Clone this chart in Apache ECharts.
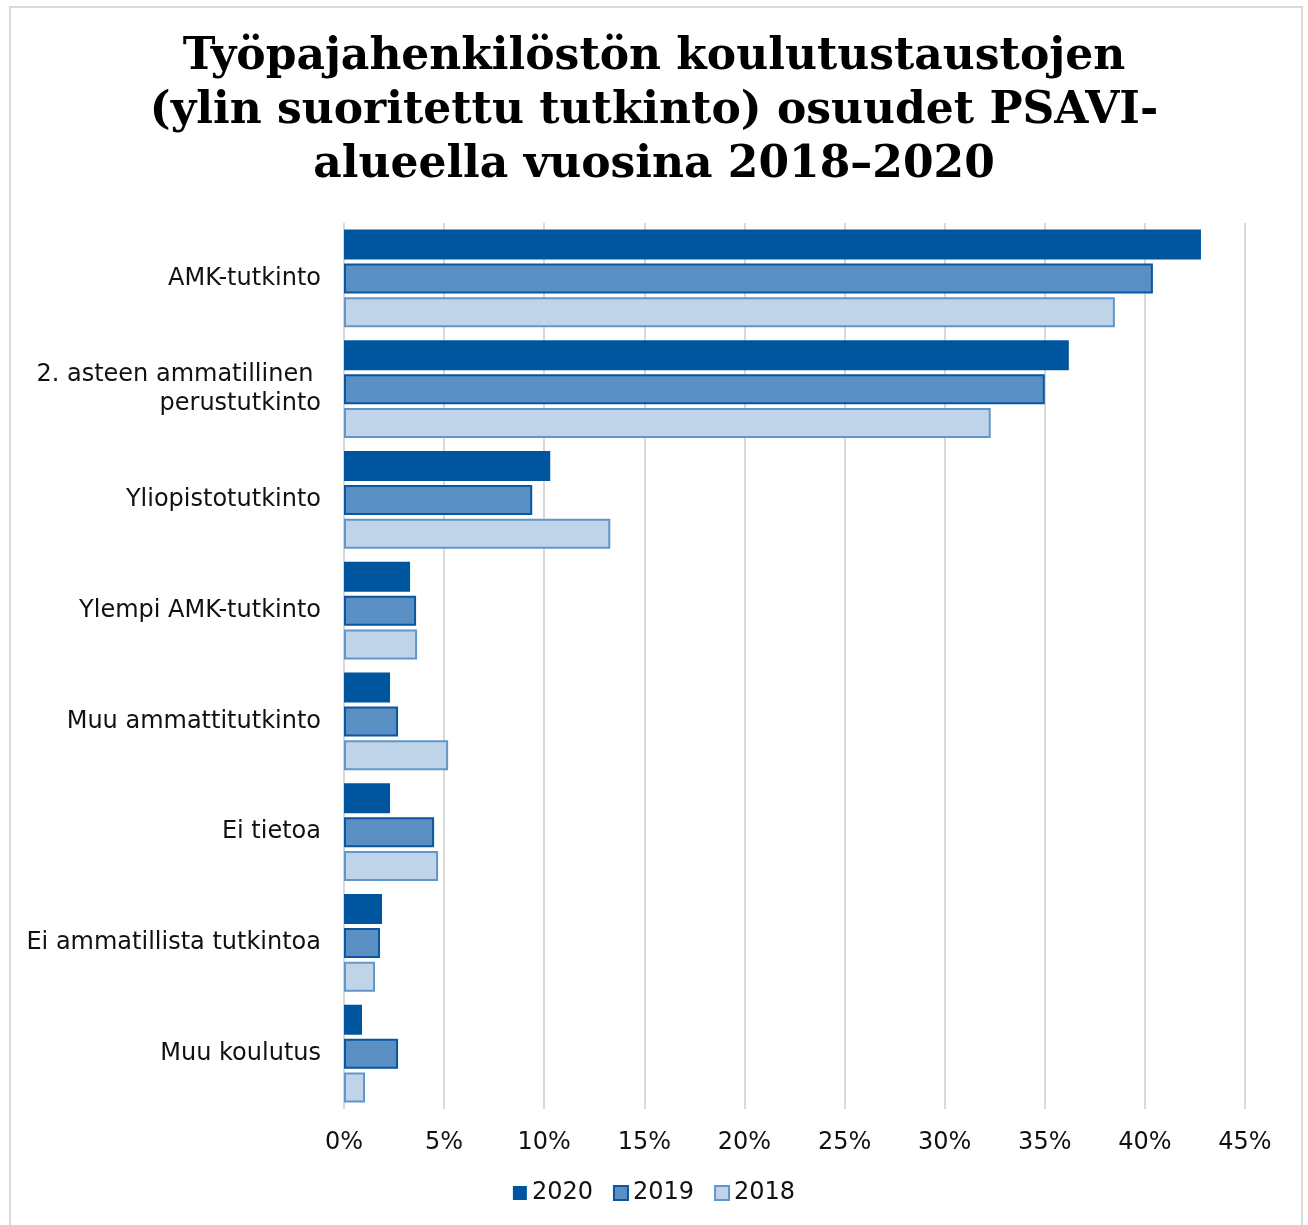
<!DOCTYPE html>
<html>
<head>
<meta charset="utf-8">
<script src="https://cdn.jsdelivr.net/npm/echarts@6/dist/echarts.min.js"></script>
<style>
  html, body { margin: 0; padding: 0; background: #fff; }
  #chart { width: 1308px; height: 1225px; }
</style>
</head>
<body>
<div id="chart"></div>
<script>
const categories = [
  'AMK-tutkinto',
  '2. asteen ammatillinen \nperustutkinto',
  'Yliopistotutkinto',
  'Ylempi AMK-tutkinto',
  'Muu ammattitutkinto',
  'Ei tietoa',
  'Ei ammatillista tutkintoa',
  'Muu koulutus'
];
const seriesNames = ['2020', '2019', '2018'];
const values2020 = [42.8, 36.2, 10.3, 3.3, 2.3, 2.3, 1.9, 0.9];
const values2019 = [40.4, 35.0, 9.4, 3.6, 2.7, 4.5, 1.8, 2.7];
const values2018 = [38.5, 32.3, 13.3, 3.65, 5.2, 4.7, 1.55, 1.05];
const xTicks = [0, 5, 10, 15, 20, 25, 30, 35, 40, 45];

const titleText = 'Työpajahenkilöstön koulutustaustojen\n(ylin suoritettu tutkinto) osuudet PSAVI-\nalueella vuosina 2018–2020';

const chart = echarts.init(document.getElementById('chart'), null, { renderer: 'canvas' });

const styles = [
  { color: '#00559F', borderColor: '#00559F', borderWidth: 0 },
  { color: '#5A8FC4', borderColor: '#0A56A0', borderWidth: 2 },
  { color: '#BFD4E9', borderColor: '#6296CA', borderWidth: 2 }
];
const dataSets = [values2020, values2019, values2018];

chart.setOption({
  backgroundColor: '#fff',
  animation: false,
  title: {
    text: titleText,
    left: 'center',
    top: 26,
    textStyle: {
      fontFamily: 'DejaVu Serif',
      fontWeight: 'bold',
      fontSize: 44,
      lineHeight: 54,
      color: '#000'
    }
  },
  graphic: [
    {
      type: 'rect',
      shape: { x: 10, y: 7, width: 1292, height: 1240 },
      style: { fill: 'none', stroke: '#D9D9D9', lineWidth: 2 },
      silent: true
    },
    {
      type: 'text',
      left: 10,
      top: -18,
      style: { text: '2018.', font: 'bold 24px DejaVu Serif', fill: '#000' },
      silent: true
    }
  ],
  grid: { left: 344, right: 63, top: 223, bottom: 116, containLabel: false },
  xAxis: {
    type: 'value',
    min: 0,
    max: 45,
    interval: 5,
    axisLine: { show: false },
    axisTick: { show: false },
    splitLine: { show: true, lineStyle: { color: '#D9D9D9', width: 2 } },
    axisLabel: {
      formatter: function (v) { return xTicks.indexOf(v) >= 0 ? v + '%' : ''; },
      fontFamily: 'DejaVu Sans',
      fontSize: 24,
      color: '#111',
      margin: 22
    }
  },
  yAxis: {
    type: 'category',
    data: categories,
    inverse: true,
    axisLine: { show: false },
    axisTick: { show: false },
    axisLabel: {
      fontFamily: 'DejaVu Sans',
      fontSize: 24,
      color: '#111',
      margin: 23,
      lineHeight: 29,
      align: 'right'
    }
  },
  legend: {
    data: seriesNames,
    bottom: 15,
    left: 'center',
    itemWidth: 14,
    itemHeight: 14,
    itemGap: 20,
    icon: 'rect',
    textStyle: { fontFamily: 'DejaVu Sans', fontSize: 24, color: '#111' }
  },
  series: seriesNames.map((name, i) => ({
    name: name,
    type: 'bar',
    data: dataSets[i],
    barWidth: 30,
    barGap: '13%',
    itemStyle: styles[i]
  }))
});
</script>
</body>
</html>
